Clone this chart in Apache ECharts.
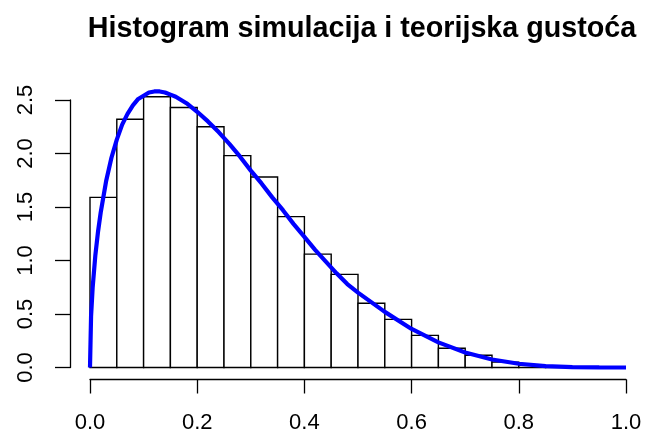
<!DOCTYPE html>
<html>
<head>
<meta charset="utf-8">
<script src="https://cdn.jsdelivr.net/npm/echarts@6/dist/echarts.min.js"></script>
<style>
  html, body { margin: 0; padding: 0; background: #fff; }
  #chart { width: 645px; height: 437px; }
</style>
</head>
<body>
<div id="chart"></div>
<script>
// histogram: bin starts (width 0.05) and densities
var binStart = [0, 0.05, 0.1, 0.15, 0.2, 0.25, 0.3, 0.35, 0.4, 0.45,
                0.5, 0.55, 0.6, 0.65, 0.7, 0.75, 0.8, 0.85, 0.9, 0.95];
var binHeight = [1.59, 2.32, 2.53, 2.43, 2.25, 1.98, 1.78, 1.41, 1.06, 0.87,
                 0.60, 0.45, 0.30, 0.18, 0.115, 0.05, 0.02, 0.005, 0, 0];
var binWidth = 0.05;

// theoretical density curve
var curveX = [0, 0.002, 0.005, 0.01, 0.015, 0.02, 0.03, 0.04, 0.05, 0.06, 0.07, 0.08, 0.09,
              0.10, 0.11, 0.12, 0.13, 0.14, 0.15, 0.16, 0.18, 0.20, 0.22, 0.24, 0.26, 0.28,
              0.30, 0.32, 0.34, 0.36, 0.38, 0.40, 0.42, 0.44, 0.46, 0.48, 0.50, 0.55, 0.60,
              0.65, 0.70, 0.75, 0.80, 0.85, 0.90, 0.95, 1.0];
var curveY = [0, 0.48, 0.75, 1.05, 1.27, 1.45, 1.74, 1.96, 2.13, 2.27, 2.37, 2.45, 2.51,
              2.54, 2.57, 2.58, 2.58, 2.57, 2.55, 2.53, 2.47, 2.39, 2.30, 2.20, 2.09, 1.97,
              1.84, 1.72, 1.59, 1.47, 1.34, 1.22, 1.10, 0.99, 0.88, 0.78, 0.70, 0.52, 0.36,
              0.235, 0.14, 0.075, 0.035, 0.012, 0.003, 0.0005, 0];

var fontFam = '"Liberation Sans", Arial, sans-serif';

var histData = [];
for (var i = 0; i < binStart.length; i++) {
    histData.push([binStart[i], binStart[i] + binWidth, binHeight[i]]);
}
var curveData = [];
for (var j = 0; j < curveX.length; j++) {
    curveData.push([curveX[j], curveY[j]]);
}

var myChart = echarts.init(document.getElementById('chart'));
var option = {
    backgroundColor: '#fff',
    animation: false,
    title: {
        text: 'Histogram simulacija i teorijska gustoća',
        left: 357,
        top: 10,
        textAlign: 'center',
        textStyle: { fontFamily: fontFam, fontSize: 28.7, fontWeight: 'bold', color: '#000' }
    },
    grid: { left: 90, right: 19, top: 100, bottom: 69.5 },
    xAxis: {
        type: 'value',
        min: 0,
        max: 1,
        interval: 0.2,
        offset: 12,
        splitLine: { show: false },
        axisLine: { show: true, onZero: false, lineStyle: { color: '#000', width: 1.3 } },
        axisTick: { show: true, length: 14, lineStyle: { color: '#000', width: 1.3 } },
        axisLabel: {
            margin: 32,
            fontFamily: fontFam, fontSize: 22, color: '#000',
            formatter: function (v) { return v.toFixed(1); }
        }
    },
    yAxis: {
        type: 'value',
        min: 0,
        max: 2.5,
        interval: 0.5,
        offset: 20,
        splitLine: { show: false },
        axisLine: { show: true, onZero: false, lineStyle: { color: '#000', width: 1.3 } },
        axisTick: { show: true, length: 15, lineStyle: { color: '#000', width: 1.3 } },
        axisLabel: {
            rotate: 90,
            margin: 33,
            fontFamily: fontFam, fontSize: 22, color: '#000',
            formatter: function (v) { return v.toFixed(1); }
        }
    },
    series: [
        {
            type: 'custom',
            clip: false,
            data: histData,
            renderItem: function (params, api) {
                var p0 = api.coord([api.value(0), 0]);
                var p1 = api.coord([api.value(1), api.value(2)]);
                return {
                    type: 'rect',
                    shape: { x: p0[0], y: p1[1], width: p1[0] - p0[0], height: p0[1] - p1[1] },
                    style: { fill: '#fff', stroke: '#000', lineWidth: 1.4 }
                };
            }
        },
        {
            type: 'line',
            clip: false,
            data: curveData,
            showSymbol: false,
            smooth: false,
            lineStyle: { color: '#0000ff', width: 4.2 }
        }
    ]
};
myChart.setOption(option);
</script>
</body>
</html>
